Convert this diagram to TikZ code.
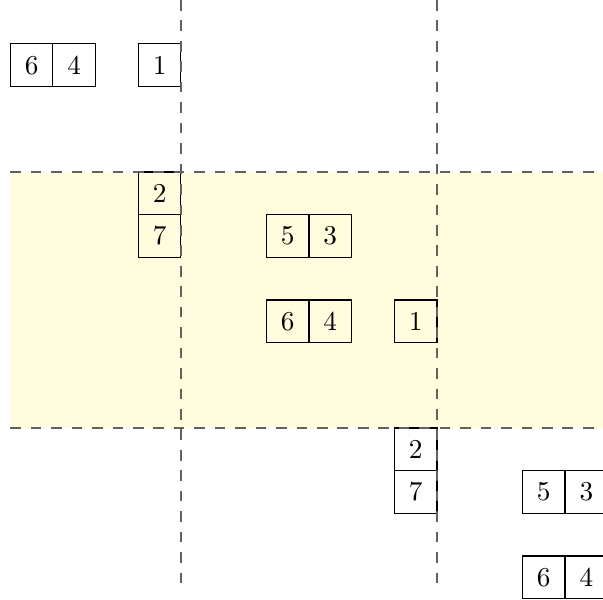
\documentclass[tikz,border=0pt]{standalone}
\begin{document}
\begin{tikzpicture}[x=0.55cm,y=0.55cm,
  cell/.style={draw=black,line width=0.4pt,minimum size=0.55cm,inner sep=0pt,outer sep=0pt,anchor=south west},
  guide/.style={draw=black!62,line width=0.45pt,dash pattern=on 3.9pt off 3.6pt},
  band/.style={fill=yellow!13,draw=none}]
\clip (-4.24,-10.03) rectangle (9.89,4.03);
\fill[band] (-4,-6) rectangle (10.5,0);
% top-left group
\node[cell] (a6) at (-4,2) {6};
\node[cell] (a4) at (-3,2) {4};
\node[cell] (a1) at (-1,2) {1};
% middle group
\node[cell] (b2) at (-1,-1) {2};
\node[cell] (b7) at (-1,-2) {7};
\node[cell] (b5) at (2,-2) {5};
\node[cell] (b3) at (3,-2) {3};
\node[cell] (b6) at (2,-4) {6};
\node[cell] (b4) at (3,-4) {4};
\node[cell] (b1) at (5,-4) {1};
% lower group
\node[cell] (c2) at (5,-7) {2};
\node[cell] (c7) at (5,-8) {7};
\node[cell] (c5) at (8,-8) {5};
\node[cell] (c3) at (9,-8) {3};
\node[cell] (c6) at (8,-10) {6};
\node[cell] (c4) at (9,-10) {4};
% guides
\coordinate (v1t) at (0,4.03);
\coordinate (v1b) at (0,-9.78);
\coordinate (v2t) at (6,4.03);
\coordinate (v2b) at (6,-9.78);
\coordinate (h1l) at (-4,0);
\coordinate (h1r) at (10.5,0);
\coordinate (h2l) at (-4,-6);
\coordinate (h2r) at (10.5,-6);
\draw[guide] (v1t) -- (v1b);
\draw[guide] (v2t) -- (v2b);
\draw[guide] (h1l) -- (h1r);
\draw[guide] (h2l) -- (h2r);
\end{tikzpicture}
\end{document}
